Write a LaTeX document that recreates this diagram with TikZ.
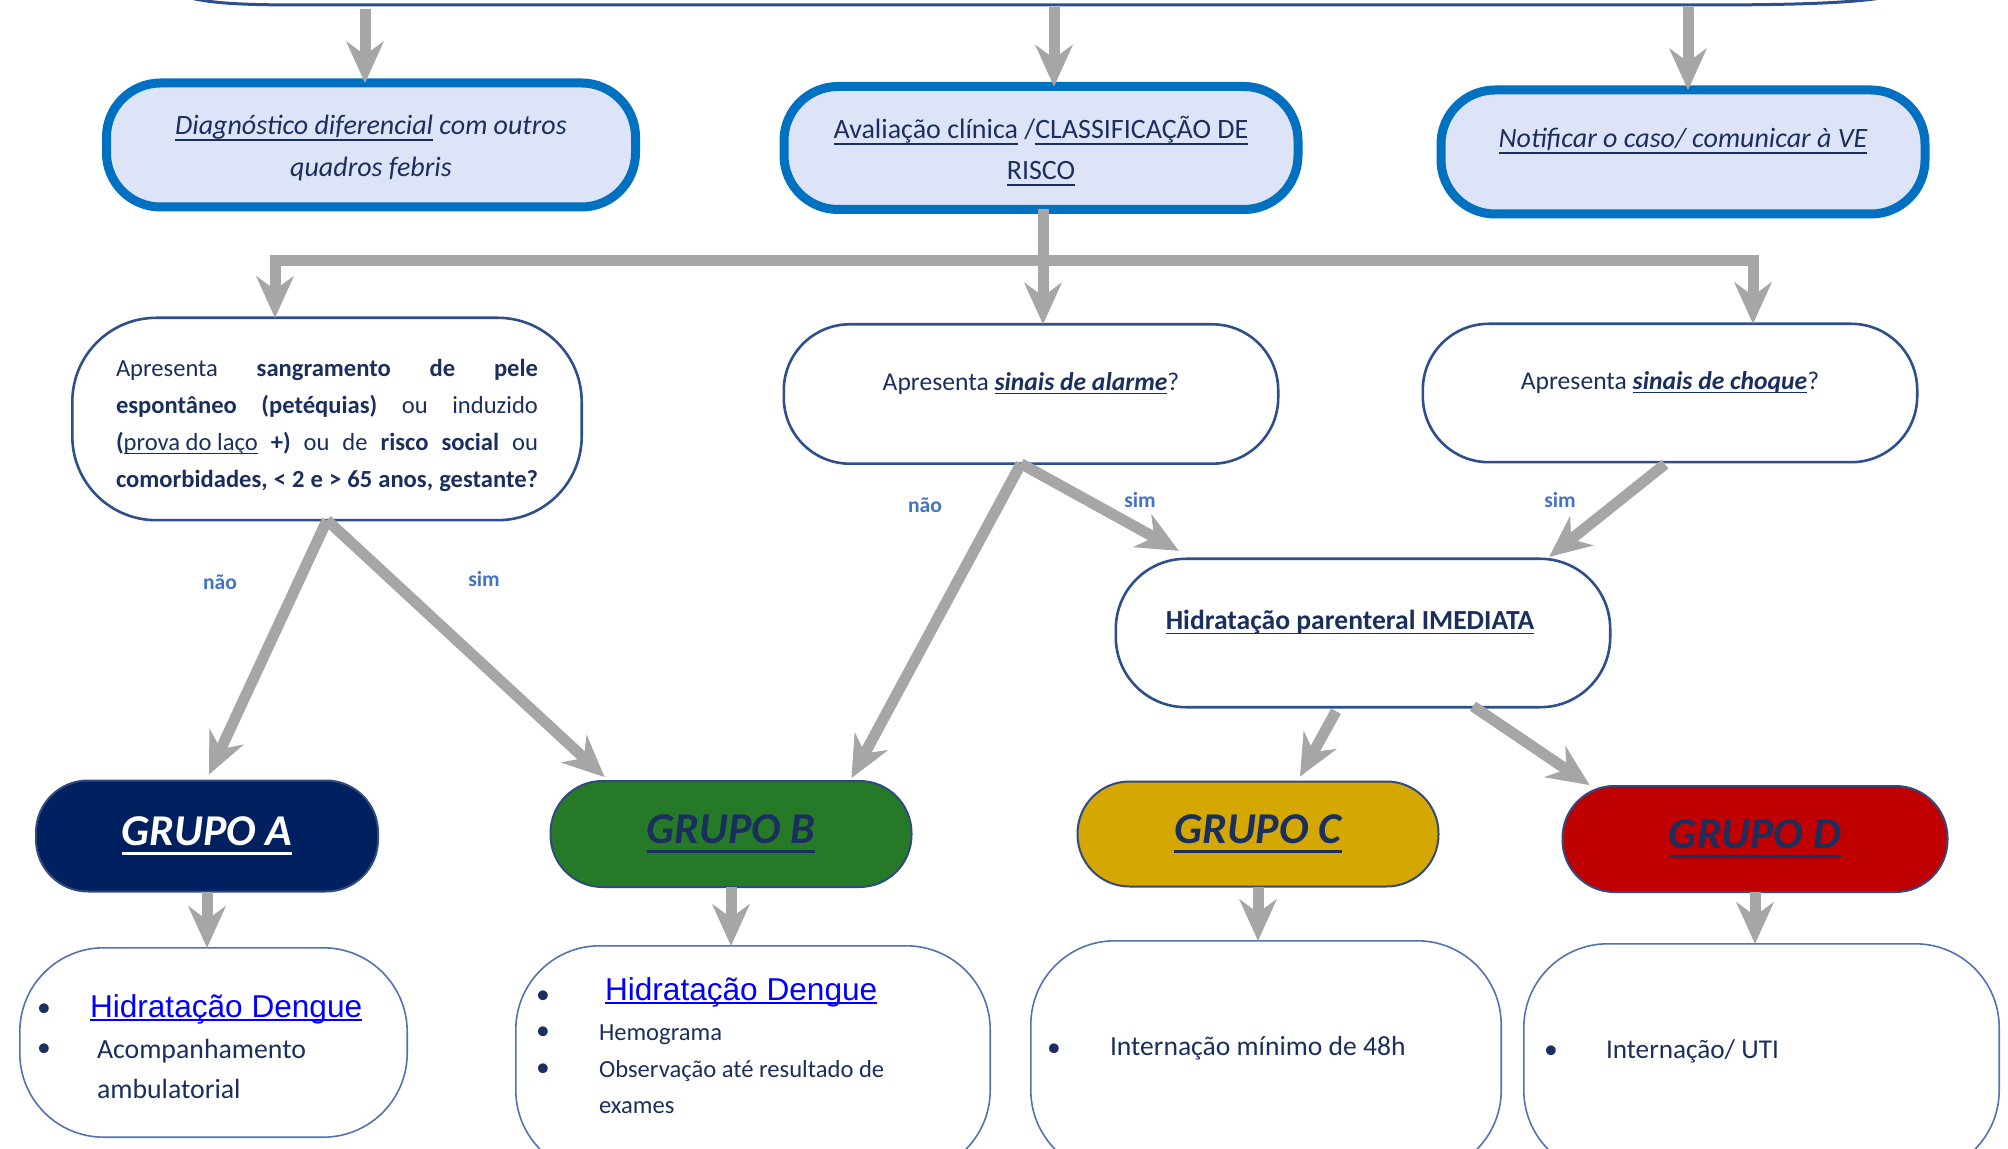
\documentclass[tikz,border=0pt]{standalone}
\usepackage{fontspec}
\setmainfont{Carlito}
\newfontfamily\arialf{Liberation Sans}
\usetikzlibrary{arrows.meta,calc}
\definecolor{navy}{HTML}{1B2F5E}
\definecolor{topfill}{HTML}{DDE4F8}
\definecolor{topborder}{HTML}{0070C0}
\definecolor{qborder}{HTML}{2E4F8C}
\definecolor{agray}{HTML}{A6A6A6}
\definecolor{lblue}{HTML}{4472C4}
\definecolor{gA}{HTML}{002060}
\definecolor{gB}{HTML}{267A27}
\definecolor{gC}{HTML}{D4A800}
\definecolor{gD}{HTML}{C00000}
\definecolor{gborder}{HTML}{2F4A80}
\definecolor{bborder}{HTML}{5272B0}
\definecolor{linkblue}{HTML}{0000FF}
\newcommand\myul[3]{\leavevmode\setbox0=\hbox{#3}\rlap{\rule[-#2]{\wd0}{#1}}\box0\relax}
\begin{document}
\begin{tikzpicture}[x=0.5pt,y=-0.5pt,
 topbox/.style={draw=topborder, line width=4.5pt, fill=topfill, rounded corners=27pt, inner sep=0pt, outer sep=0pt},
 qbox/.style={draw=qborder, line width=1.3pt, fill=white, inner sep=0pt, outer sep=0pt},
 grp/.style={draw=gborder, line width=1pt, rounded corners=26pt, inner sep=0pt, outer sep=0pt, font=\fontsize{22}{26}\selectfont\bfseries\itshape},
 botbox/.style={draw=bborder, line width=0.8pt, fill=white, rounded corners=42pt, inner sep=0pt, outer sep=0pt},
 txt/.style={inner sep=0pt, outer sep=0pt, text=navy},
 lbl/.style={inner sep=0pt, text=lblue, font=\fontsize{10.8}{13}\selectfont\bfseries, anchor=base},
 bul/.style={inner sep=0pt, outer sep=0pt, text=navy, anchor=base, font=\fontsize{13.8}{16}\selectfont},
 arr/.style={draw=agray, line width=5.5pt, -{Stealth[length=21pt,width=19pt,inset=7pt,line width=0.5pt]}},
 arrtwo/.style={draw=agray, line width=5.5pt, {Stealth[length=21pt,width=19pt,inset=7pt,line width=0.5pt]}-{Stealth[length=21pt,width=19pt,inset=7pt,line width=0.5pt]}},
]
\useasboundingbox (0,0) rectangle (2008,1149);
\clip (0,0) rectangle (2008,1149);
\fill[white] (0,0) rectangle (2008,1149);

% top partial box edge
\draw[qborder, line width=1.5pt] (172,-8) .. controls (200,4) and (240,5) .. (310,5) -- (1700,5) .. controls (1800,5) and (1880,3) .. (1905,-8);

% top boxes
\node[topbox, minimum width=264.5pt, minimum height=62pt] (B1) at (371,145) {};
\node[topbox, minimum width=257pt, minimum height=61.5pt] (B2) at (1041,148) {};
\node[topbox, minimum width=242pt, minimum height=62pt] (B3) at (1683,152) {};
\node[txt, anchor=base] (t1) at (371,135) {\parbox[t]{300pt}{\centering\fontsize{14}{21}\selectfont\itshape\myul{0.9pt}{2.8pt}{Diagnóstico diferencial} com outros\\quadros febris}};
\node[txt, anchor=base] (t2) at (1041,139) {\parbox[t]{300pt}{\centering\fontsize{14}{20.5}\selectfont\myul{0.9pt}{2.8pt}{Avaliação clínica} /\myul{0.9pt}{2.8pt}{CLASSIFICAÇÃO DE}\\\myul{0.9pt}{2.8pt}{RISCO}}};
\node[txt, anchor=base, font=\fontsize{14}{17}\selectfont\itshape] (t3) at (1683,148) {\myul{0.9pt}{2.8pt}{Notificar o caso/ comunicar à VE}};

% question boxes
\node[qbox, rounded corners=42pt, minimum width=254.7pt, minimum height=101.2pt] (Q1) at (327,419) {};
\node[qbox, rounded corners=33pt, minimum width=247.2pt, minimum height=69.7pt] (Q2) at (1031,394) {};
\node[qbox, rounded corners=33pt, minimum width=247.2pt, minimum height=69.2pt] (Q3) at (1670,393) {};
\node[qbox, rounded corners=35pt, minimum width=247.2pt, minimum height=74.2pt] (H) at (1363,633) {};

\node[txt, anchor=base west] (q1t) at (116,377) {\parbox[t]{211pt}{\fontsize{12.3}{18.5}\selectfont\parfillskip=0pt Apresenta \textbf{sangramento de pele}\linebreak \textbf{espontâneo (petéquias)} ou induzido\linebreak \textbf{(}\myul{0.7pt}{1.6pt}{prova do laço} \textbf{+)} ou de \textbf{risco social} ou\linebreak \textbf{comorbidades, < 2 e > 65 anos, gestante?}}};
\node[txt, anchor=base, font=\fontsize{12.8}{15}\selectfont] (q2t) at (1031,391) {Apresenta \myul{0.7pt}{1.6pt}{\bfseries\itshape sinais de alarme}?};
\node[txt, anchor=base, font=\fontsize{12.8}{15}\selectfont] (q3t) at (1670,390) {Apresenta \myul{0.7pt}{1.6pt}{\bfseries\itshape sinais de choque}?};
\node[txt, anchor=base, font=\fontsize{13.8}{16}\selectfont\bfseries] (ht) at (1350,630) {\myul{0.9pt}{2.2pt}{Hidratação parenteral IMEDIATA}};

% labels
\node[lbl] (l1) at (220,590) {não};
\node[lbl] (l2) at (484,587) {sim};
\node[lbl] (l3) at (925,513) {não};
\node[lbl] (l4) at (1140,508) {sim};
\node[lbl] (l5) at (1560,508) {sim};

% groups
\node[grp, fill=gA, text=white, minimum width=171pt, minimum height=55.5pt] (A) at (207,836) {\myul{1.6pt}{4.5pt}{GRUPO A}};
\node[grp, fill=gB, text=navy, minimum width=180.5pt, minimum height=53pt] (B) at (731,834) {\myul{1.6pt}{4.5pt}{GRUPO B}};
\node[grp, fill=gC, text=navy, minimum width=180.5pt, minimum height=52.5pt] (C) at (1258,834) {\myul{1.6pt}{4.5pt}{GRUPO C}};
\node[grp, fill=gD, text=navy, minimum width=192.5pt, minimum height=53pt] (D) at (1755,839) {\myul{1.6pt}{4.5pt}{GRUPO D}};

% bottom boxes
\node[botbox, minimum width=193.7pt, minimum height=94.7pt] (bA) at (213.5,1042.5) {};
\node[botbox, minimum width=237.2pt, minimum height=114.2pt] (bB) at (753,1060) {};
\node[botbox, minimum width=235.2pt, minimum height=116.7pt] (bC) at (1266,1057.5) {};
\node[botbox, minimum width=237.7pt, minimum height=115.2pt] (bD) at (1761.5,1059) {};

\node[bul] (a1) at (44,1016) {•};
\node[txt, anchor=base west, font=\arialf\fontsize{15.8}{18}\selectfont, text=linkblue] (a1t) at (90,1017) {\myul{0.8pt}{2pt}{Hidratação Dengue}};
\node[bul] (a2) at (44,1056) {•};
\node[txt, anchor=base west, font=\fontsize{13.9}{16}\selectfont] (a2t) at (97,1058) {Acompanhamento};
\node[txt, anchor=base west, font=\fontsize{13.9}{16}\selectfont] (a3t) at (97,1098) {ambulatorial};

\node[bul] (b1) at (543,1003) {•};
\node[txt, anchor=base west, font=\arialf\fontsize{15.8}{18}\selectfont, text=linkblue] (b1t) at (605,1000) {\myul{0.8pt}{2pt}{Hidratação Dengue}};
\node[bul] (b2) at (543,1039) {•};
\node[txt, anchor=base west, font=\fontsize{12.3}{15}\selectfont] (b2t) at (599,1040) {Hemograma};
\node[bul] (b3) at (543,1076) {•};
\node[txt, anchor=base west, font=\fontsize{12.3}{15}\selectfont] (b3t) at (599,1077) {Observação até resultado de};
\node[txt, anchor=base west, font=\fontsize{12.3}{15}\selectfont] (b4t) at (599,1113) {exames};

\node[bul] (c1) at (1054,1056) {•};
\node[txt, anchor=base west, font=\fontsize{13.8}{16}\selectfont] (c1t) at (1110,1055) {Internação mínimo de 48h};
\node[bul] (d1) at (1551,1058) {•};
\node[txt, anchor=base west, font=\fontsize{13.6}{16}\selectfont] (d1t) at (1606,1058) {Internação/ UTI};

% arrows
\coordinate (s1) at (365,9);
\coordinate (s2) at (1054,7);
\coordinate (s3) at (1688,7);
\draw[arr] (s1) -- (s1 |- B1.north);
\draw[arr] (s2) -- (s2 |- B2.north);
\draw[arr] (s3) -- (s3 |- B3.north);

\coordinate (barL) at (275,261);
\coordinate (barR) at (1753,261);
\draw[arrtwo] (barL |- Q1.north) -- (barL) -- (barR) -- (barR |- Q3.north);
\draw[arr] ($(B2.south)+(2,0)$) -- ($(Q2.north)+(12,0)$);

\draw[arr] (Q1.south) -- ($(A.north)+(2,-6)$);
\draw[arr] (Q1.south) -- ($(B.north west)+(54,-4)$);
\draw[arr] ($(Q2.south)+(-10,0)$) -- ($(B.north east)+(-60,-3)$);
\draw[arr] ($(Q2.south)+(-10,0)$) -- ($(H.north west)+(63,-8)$);
\draw[arr] ($(Q3.south)+(-5,2)$) -- ($(H.north east)+(-61,-2)$);
\draw[arr] ($(H.south)+(-27,4)$) -- ($(C.north)+(42,-5)$);
\draw[arr] ($(H.south)+(110,-1)$) -- ($(D.north west)+(27,-1)$);

\draw[arr] (A.south) -- (A.south |- bA.north);
\draw[arr] (B.south) -- (B.south |- bB.north);
\draw[arr] (C.south) -- (C.south |- bC.north);
\draw[arr] (D.south) -- (D.south |- bD.north);
\end{tikzpicture}
\end{document}
